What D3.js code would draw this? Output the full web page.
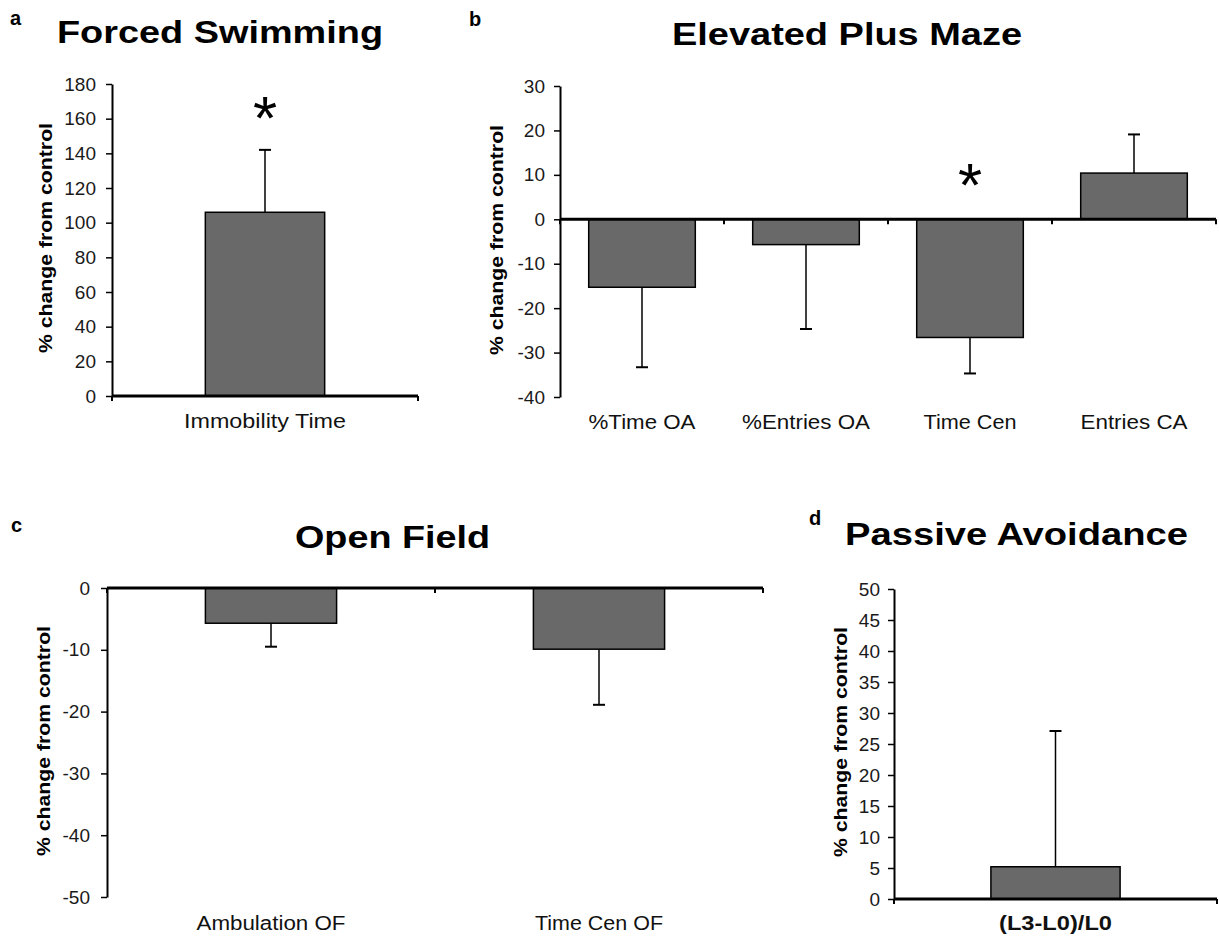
<!DOCTYPE html>
<html>
<head>
<meta charset="utf-8">
<title>Behavioural tests</title>
<script src="https://d3js.org/d3.v7.min.js"></script>
<style>
  body { margin: 0; background: #fff; }
  svg text { font-family: "Liberation Sans", Arial, sans-serif; }
</style>
</head>
<body>
<div id="chart"></div>
<script>
// a - Forced Swimming
var fsCategories = ["Immobility Time"];
var fsValues = [106];
var fsSem = [36];
var fsTicks = [0, 20, 40, 60, 80, 100, 120, 140, 160, 180];
var fsStars = ["Immobility Time"];
var fsStarAt = [166];

// b - Elevated Plus Maze
var epmCategories = ["%Time OA", "%Entries OA", "Time Cen", "Entries CA"];
var epmValues = [-15.3, -5.7, -26.6, 10.4];
var epmSem = [18.0, 19.0, 8.1, 8.7];
var epmTicks = [-40, -30, -20, -10, 0, 10, 20, 30];
var epmStars = ["Time Cen"];
var epmStarAt = [10];

// c - Open Field
var ofCategories = ["Ambulation OF", "Time Cen OF"];
var ofValues = [-5.7, -9.9];
var ofSem = [3.8, 9.0];
var ofTicks = [-50, -40, -30, -20, -10, 0];

// d - Passive Avoidance
var paCategories = ["(L3-L0)/L0"];
var paValues = [5.2];
var paSem = [21.9];
var paTicks = [0, 5, 10, 15, 20, 25, 30, 35, 40, 45, 50];

var yTitle = "% change from control";

var svg = d3.select("#chart")
  .append("svg")
  .attr("width", 1219)
  .attr("height", 937);

function drawPanel(p) {
  var g = svg.append("g");

  var x = d3.scaleBand()
    .domain(p.categories)
    .range([p.x0, p.x1])
    .paddingInner(p.pad)
    .paddingOuter(p.pad / 2);

  var y = d3.scaleLinear()
    .domain([p.ticks[0], p.ticks[p.ticks.length - 1]])
    .range([p.yBot, p.yTop]);

  // panel letter and title
  g.append("text")
    .attr("x", p.letterX).attr("y", p.letterY)
    .attr("font-size", 20).attr("font-weight", "bold")
    .text(p.letter);

  g.append("text")
    .attr("x", p.titleX).attr("y", p.titleY)
    .attr("font-size", 32).attr("font-weight", "bold")
    .attr("textLength", p.titleW).attr("lengthAdjust", "spacingAndGlyphs")
    .text(p.title);

  // y axis (plain hyphen for negatives, as in the original)
  var yAxis = g.append("g")
    .attr("transform", "translate(" + p.x0 + ",0)")
    .call(d3.axisLeft(y).tickValues(p.ticks).tickSize(6).tickSizeOuter(0)
      .tickPadding(p.tickPad).tickFormat(function(d) { return String(d); }));
  yAxis.select(".domain").attr("stroke", "#000").attr("stroke-width", 2);
  yAxis.selectAll(".tick line").attr("stroke", "#000").attr("stroke-width", 1.5);
  yAxis.selectAll(".tick text")
    .attr("font-size", 19).attr("fill", "#1a1a1a")
    .attr("font-family", "Liberation Sans, Arial, sans-serif");

  g.append("text")
    .attr("transform", "translate(" + p.ylabX + "," + p.ylabY + ") rotate(-90)")
    .attr("text-anchor", "middle")
    .attr("font-size", 19).attr("font-weight", "bold")
    .attr("textLength", 230).attr("lengthAdjust", "spacingAndGlyphs")
    .text(yTitle);

  var data = p.categories.map(function(c, i) {
    return { cat: c, value: p.values[i], sem: p.sem[i] };
  });

  // bars
  g.selectAll("rect.bar")
    .data(data)
    .enter()
    .append("rect")
    .attr("class", "bar")
    .attr("x", function(d) { return x(d.cat); })
    .attr("width", x.bandwidth())
    .attr("y", function(d) { return y(Math.max(0, d.value)); })
    .attr("height", function(d) { return Math.abs(y(d.value) - y(0)); })
    .attr("fill", "#696969")
    .attr("stroke", "#000")
    .attr("stroke-width", 1.5);

  // error bars, drawn away from zero
  var errEnd = function(d) { return d.value + (d.value < 0 ? -d.sem : d.sem); };
  var cx = function(d) { return x(d.cat) + x.bandwidth() / 2; };

  g.selectAll("line.err")
    .data(data)
    .enter()
    .append("line")
    .attr("class", "err")
    .attr("x1", cx).attr("x2", cx)
    .attr("y1", function(d) { return y(d.value); })
    .attr("y2", function(d) { return y(errEnd(d)); })
    .attr("stroke", "#000").attr("stroke-width", 1.5);

  g.selectAll("line.cap")
    .data(data)
    .enter()
    .append("line")
    .attr("class", "cap")
    .attr("x1", function(d) { return cx(d) - 6; })
    .attr("x2", function(d) { return cx(d) + 6; })
    .attr("y1", function(d) { return y(errEnd(d)); })
    .attr("y2", function(d) { return y(errEnd(d)); })
    .attr("stroke", "#000").attr("stroke-width", 2);

  // x axis line at zero with ticks between categories
  g.append("line")
    .attr("x1", p.x0).attr("x2", p.x1)
    .attr("y1", y(0)).attr("y2", y(0))
    .attr("stroke", "#000").attr("stroke-width", 3);

  var bounds = [p.x0].concat(p.categories.map(function(c) {
    return x(c) + x.bandwidth() + x.step() * p.pad / 2;
  }));
  g.selectAll("line.xtick")
    .data(bounds)
    .enter()
    .append("line")
    .attr("class", "xtick")
    .attr("x1", function(d) { return d; })
    .attr("x2", function(d) { return d; })
    .attr("y1", y(0)).attr("y2", y(0) + 5)
    .attr("stroke", "#000").attr("stroke-width", 2);

  // category labels
  g.selectAll("text.cat")
    .data(data)
    .enter()
    .append("text")
    .attr("class", "cat")
    .attr("x", cx)
    .attr("y", p.catY)
    .attr("text-anchor", "middle")
    .attr("font-size", 20)
    .attr("font-weight", p.catBold ? "bold" : "normal")
    .attr("fill", "#111")
    .attr("textLength", function(d, i) { return p.catW[i]; })
    .attr("lengthAdjust", "spacingAndGlyphs")
    .text(function(d) { return d.cat; });

  // significance stars
  if (p.stars) {
    g.selectAll("text.star")
      .data(p.stars)
      .enter()
      .append("text")
      .attr("class", "star")
      .attr("x", function(d) { return x(d) + x.bandwidth() / 2; })
      .attr("y", function(d, i) { return y(p.starAt[i]) + 31; })
      .attr("text-anchor", "middle")
      .attr("font-size", 62)
      .text("*");
  }
}

drawPanel({
  categories: fsCategories, values: fsValues, sem: fsSem, ticks: fsTicks,
  stars: fsStars, starAt: fsStarAt,
  x0: 112, x1: 418, yTop: 84, yBot: 396, pad: 0.61, tickPad: 10,
  letter: "a", letterX: 10, letterY: 25,
  title: "Forced Swimming", titleX: 57, titleY: 43, titleW: 326,
  ylabX: 52, ylabY: 238, catY: 428, catW: [162]
});

drawPanel({
  categories: epmCategories, values: epmValues, sem: epmSem, ticks: epmTicks,
  stars: epmStars, starAt: epmStarAt,
  x0: 560, x1: 1216, yTop: 86, yBot: 397, pad: 0.35, tickPad: 9,
  letter: "b", letterX: 469, letterY: 26,
  title: "Elevated Plus Maze", titleX: 672, titleY: 45, titleW: 350,
  ylabX: 503, ylabY: 240, catY: 429, catW: [107, 128, 93, 107]
});

drawPanel({
  categories: ofCategories, values: ofValues, sem: ofSem, ticks: ofTicks,
  x0: 107, x1: 763, yTop: 588, yBot: 897, pad: 0.6, tickPad: 11,
  letter: "c", letterX: 11, letterY: 532,
  title: "Open Field", titleX: 295, titleY: 548, titleW: 195,
  ylabX: 50, ylabY: 741, catY: 930, catW: [149, 128]
});

drawPanel({
  categories: paCategories, values: paValues, sem: paSem, ticks: paTicks,
  x0: 894, x1: 1217, yTop: 589, yBot: 899, pad: 0.6, tickPad: 8,
  letter: "d", letterX: 809, letterY: 525,
  title: "Passive Avoidance", titleX: 845, titleY: 545, titleW: 343,
  ylabX: 847, ylabY: 742, catY: 930, catW: [113], catBold: true
});
</script>
</body>
</html>
